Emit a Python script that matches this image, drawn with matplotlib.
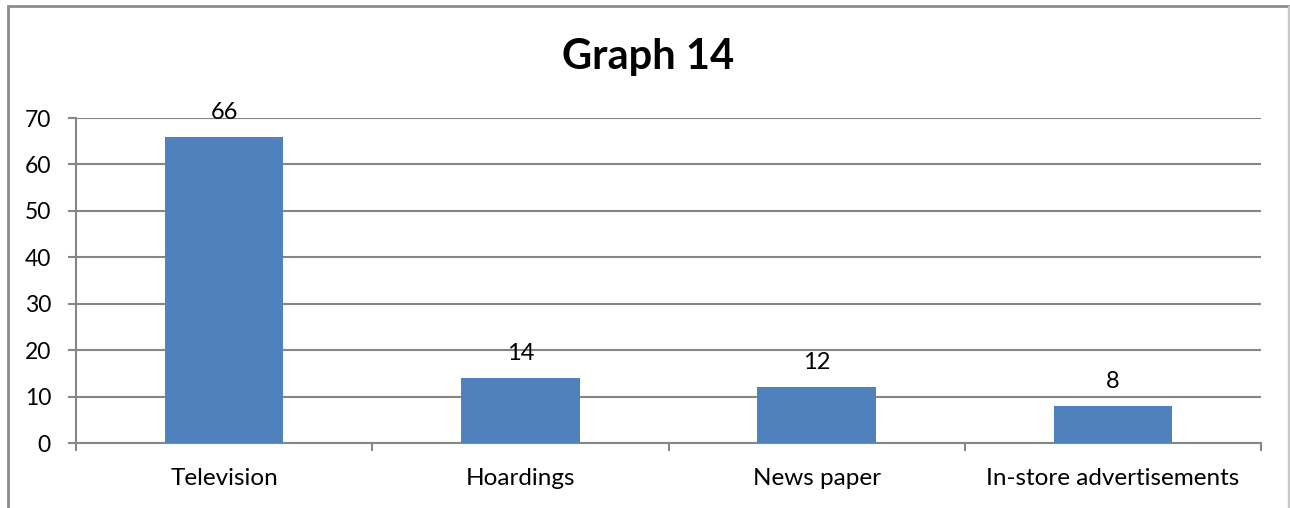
import matplotlib.pyplot as plt
from matplotlib.patches import Rectangle

categories = ['Television', 'Hoardings', 'News paper', 'In-store advertisements']
values = [66, 14, 12, 8]
yticks = [0, 10, 20, 30, 40, 50, 60, 70]

W, H = 1290, 508
fig = plt.figure(figsize=(W / 100, H / 100), dpi=100)
plt.rcParams['font.family'] = ['Lato', 'DejaVu Sans']

# chart border
fig.patches.append(Rectangle((8 / W, -0.1), 1.2, 1 - 6 / H + 0.1, transform=fig.transFigure,
                             fill=False, edgecolor='#8c8c8c', linewidth=2))
fig.patches.append(Rectangle((1288 / W, 0), 0.001, 1 - 6 / H, transform=fig.transFigure,
                             fill=False, edgecolor='#c8c8c8', linewidth=1))

ax = fig.add_axes([76 / W, 1 - 443 / H, (1261 - 76) / W, (443 - 118) / H])
x = list(range(len(categories)))
ax.bar(x, values, width=0.4, color='#4F81BD', zorder=3)
ax.set_xlim(-0.5, len(categories) - 0.5)
ax.set_ylim(0, 70)

ax.set_yticks(yticks)
ax.tick_params(axis='y', labelsize=16.5, length=6, width=1.5, color='#868686', pad=12)
ax.yaxis.grid(True, color='#868686', linewidth=1.5, zorder=0)
ax.set_xticks(x)
ax.set_xticklabels(categories)
ax.tick_params(axis='x', length=0, labelsize=17.5, pad=18)
ax.set_xticks([i - 0.5 for i in range(len(categories) + 1)], minor=True)
ax.tick_params(axis='x', which='minor', length=6, width=1.5, color='#868686')

for s in ['top', 'right']:
    ax.spines[s].set_visible(False)
for s in ['left', 'bottom']:
    ax.spines[s].set_color('#868686')
    ax.spines[s].set_linewidth(1.5)

for xi, v in zip(x, values):
    ax.annotate(str(v), (xi, v), xytext=(0, 10), textcoords='offset points',
                ha='center', va='bottom', fontsize=17)

fig.text(648 / W, 1 - 57 / H, 'Graph 14', ha='center', va='center',
         fontsize=30, fontweight='bold')

fig.savefig('out.png', dpi=100)
